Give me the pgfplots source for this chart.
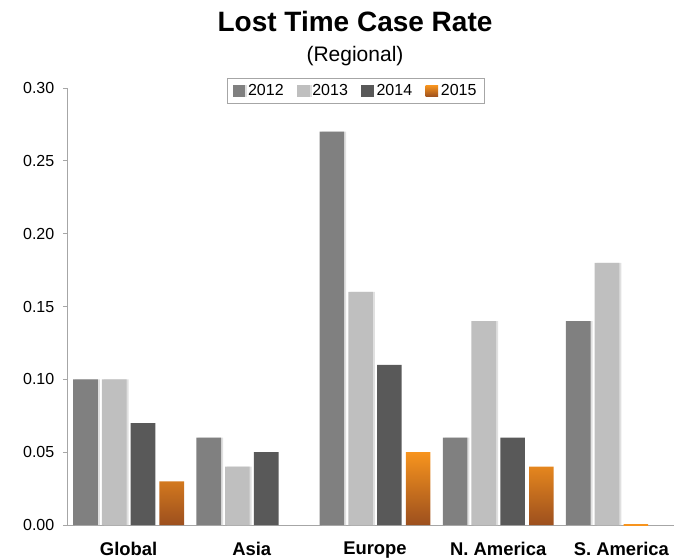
\documentclass[border=0pt]{standalone}
\usepackage{fontspec}
\setmainfont{Liberation Sans}
\usepackage{pgfplots}
\pgfplotsset{compat=1.18}
\definecolor{c12}{HTML}{808080}
\definecolor{c13}{HTML}{BFBFBF}
\definecolor{c14}{HTML}{595959}
\definecolor{o1}{HTML}{F7941E}
\definecolor{o2}{HTML}{EB861C}
\definecolor{o3}{HTML}{9C4F1E}
\definecolor{axgray}{HTML}{A6A6A6}
\pgfplotsset{
  mybar/.style={ybar, bar width=0.2, draw=none,
    legend image code/.code={\path[##1] (0pt,-4.3pt) rectangle (9.5pt,4.3pt);}},
}
\begin{document}
\begin{tikzpicture}
\path[use as bounding box] (0,0) rectangle (505.5pt,418.5pt);
\node[anchor=base, font=\fontsize{21}{24}\selectfont\bfseries] at (266.25pt,394.5pt) {Lost Time Case Rate};
\node[anchor=base, font=\fontsize{15.75}{18}\selectfont] at (266.25pt,372pt) {(Regional)};
\begin{axis}[
  at={(50.25pt,24.75pt)}, anchor=south west,
  scale only axis, width=455.25pt, height=327.75pt,
  xmin=-0.5, xmax=4.427, ymin=0, ymax=0.3,
  axis x line*=bottom, axis y line*=left,
  axis line style={axgray, line width=0.6pt},
  xtick={0,1,2,3,4},
  xticklabels={Global, Asia, Europe, N. America, S. America},
  x tick label style={font=\fontsize{13.8}{16}\selectfont\bfseries, yshift=-6pt},
  x tick style={draw=none},
  extra x ticks={0.5,1.5,2.5,3.5},
  extra x tick labels={},
  extra x tick style={tick style={axgray, line width=0.6pt}, major tick length=4pt},
  ytick={0,0.05,0.1,0.15,0.2,0.25,0.3},
  y tick label style={font=\fontsize{12}{14}\selectfont,
    /pgf/number format/fixed, /pgf/number format/fixed zerofill,
    /pgf/number format/precision=2, /pgf/number format/assume math mode=true, xshift=-3pt},
  y tick style={axgray, line width=0.6pt},
  tick align=outside, major tick length=3pt,
  legend columns=4,
  legend style={at={(0.476,0.993)}, anchor=center, draw=axgray, line width=0.6pt,
    font=\fontsize{12}{14}\selectfont, inner xsep=4pt, inner ysep=2.5pt,
    /tikz/every even column/.append style={column sep=8pt}},
  legend cell align=left,
  clip=false,
]
\addplot[mybar, bar shift=-0.35, fill=c12, preaction={fill=black!12, transform canvas={xshift=1.5pt}}]
  coordinates {(0,0.10) (1,0.06) (2,0.27) (3,0.06) (4,0.14)};
\addlegendentry{2012}
\addplot[mybar, bar shift=-0.117, fill=c13, preaction={fill=black!12, transform canvas={xshift=1.5pt}}]
  coordinates {(0,0.10) (1,0.04) (2,0.16) (3,0.14) (4,0.18)};
\addlegendentry{2013}
\addplot[mybar, bar shift=0.117, fill=c14]
  coordinates {(0,0.07) (1,0.05) (2,0.11) (3,0.06)};
\addlegendentry{2014}
\addplot[mybar, bar shift=0.35, top color=o1, middle color=o2, bottom color=o3]
  coordinates {(0,0.03) (2,0.05) (3,0.04)};
\addlegendentry{2015}
\addplot[ybar, bar width=0.2, bar shift=0.117, draw=o1, line width=0.8pt, forget plot]
  coordinates {(4,0)};
\end{axis}
\end{tikzpicture}
\end{document}
